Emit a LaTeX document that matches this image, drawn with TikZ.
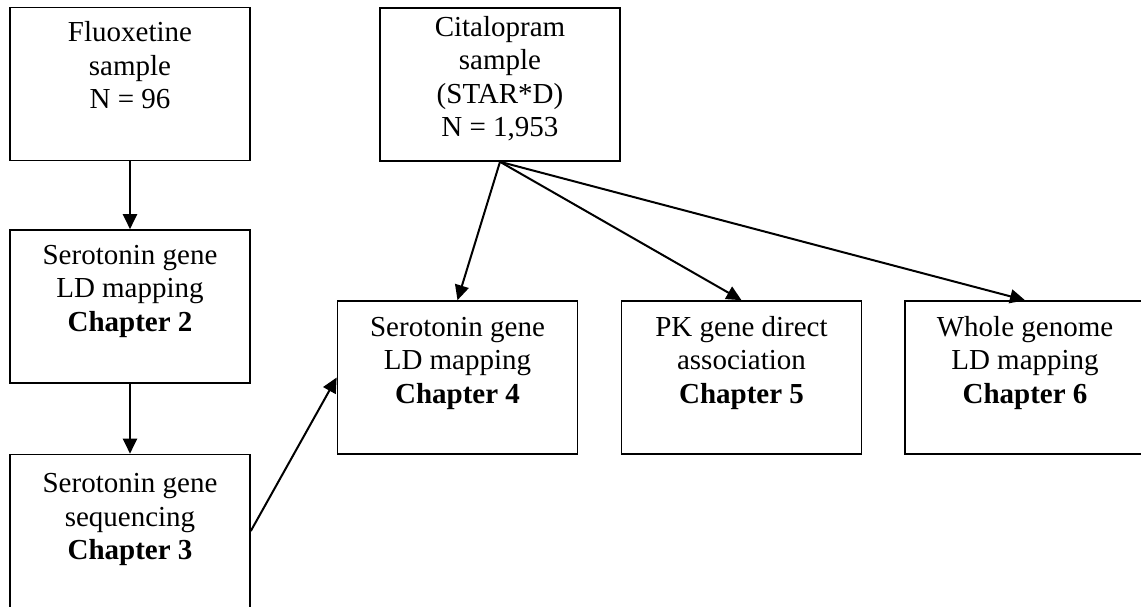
\documentclass[tikz,border=0pt]{standalone}
\usepackage{fontspec}
\setmainfont{Liberation Serif}
\usetikzlibrary{arrows.meta}
\tikzset{
  box/.style={draw, line width=1.6pt, minimum width=240pt, minimum height=153pt, inner sep=0pt},
  txt/.style={anchor=base, inner sep=0pt, font=\fontsize{29}{33.5}\selectfont},
  arr/.style={line width=2pt, -{Triangle[length=15pt,width=14pt]}}
}
\newcommand{\boxtext}[1]{\parbox[t]{236pt}{\centering #1}}
\begin{document}
\begin{tikzpicture}[x=1pt,y=-1pt]
\useasboundingbox (0,0) rectangle (1141,607);
% boxes
\node[box] (fluo) at (130,84) {};
\node[box] (cit) at (500,84.5) {};
\node[box] (ch2) at (130,306.5) {};
\node[box] (ch3) at (130,531) {};
\node[box] (ch4) at (457.5,377.5) {};
\node[box] (ch5) at (741.5,377.5) {};
\node[box] (ch6) at (1025,377.5) {};
% texts
\node[txt] (fluot) at ([yshift=-35pt]fluo.north) {\boxtext{Fluoxetine\\sample\\N = 96}};
\node[txt] (citt) at ([yshift=-29pt]cit.north) {\boxtext{Citalopram\\sample\\(STAR*D)\\N = 1,953}};
\node[txt] (ch2t) at ([yshift=-35pt]ch2.north) {\boxtext{Serotonin gene\\LD mapping\\\textbf{Chapter 2}}};
\node[txt] (ch3t) at ([yshift=-39pt]ch3.north) {\boxtext{Serotonin gene\\sequencing\\\textbf{Chapter 3}}};
\node[txt] (ch4t) at ([yshift=-36pt]ch4.north) {\boxtext{Serotonin gene\\LD mapping\\\textbf{Chapter 4}}};
\node[txt] (ch5t) at ([yshift=-36pt]ch5.north) {\boxtext{PK gene direct\\association\\\textbf{Chapter 5}}};
\node[txt] (ch6t) at ([yshift=-36pt]ch6.north) {\boxtext{Whole genome\\LD mapping\\\textbf{Chapter 6}}};
% arrows
\draw[arr] (fluo.south) -- (ch2.north);
\draw[arr] (ch2.south) -- (ch3.north);
\draw[arr] (ch3.east) -- (ch4.west);
\draw[arr] (cit.south) -- (ch4.north);
\draw[arr] (cit.south) -- (ch5.north);
\draw[arr] (cit.south) -- (ch6.north);
\end{tikzpicture}
\end{document}
